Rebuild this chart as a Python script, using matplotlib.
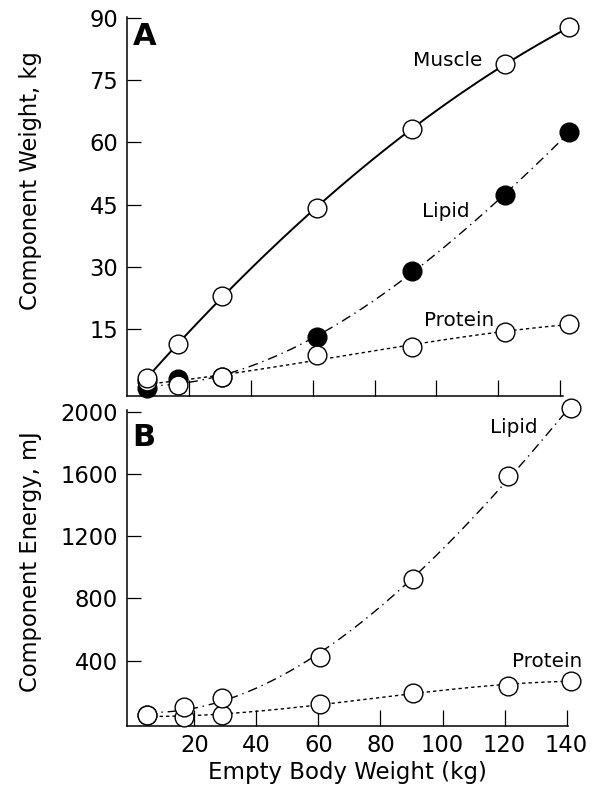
import numpy as np
import matplotlib
matplotlib.use("Agg")
import matplotlib.pyplot as plt

# empty body weight (kg) for each animal, panel A and panel B
weight_a = [6.3, 16.5, 30.8, 61.5, 92.0, 122.3, 143.0]
weight_b = [4.7, 16.8, 28.8, 60.5, 90.4, 121.0, 141.4]

# component weights (kg)
muscle_kg = [3.2, 11.4, 23.1, 44.3, 63.3, 78.9, 87.7]
lipid_kg = [0.8, 2.9, 3.5, 13.1, 29.0, 47.4, 62.5]
protein_kg = [2.6, 1.6, 3.5, 8.8, 10.7, 14.3, 16.3]

# component energy (mJ)
lipid_mj = [48, 100, 160, 426, 924, 1588, 2025]
protein_mj = [48, 38, 51, 124, 191, 238, 272]

ticks_x = [20, 40, 60, 80, 100, 120, 140]
ticks_a = [15, 30, 45, 60, 75, 90]
ticks_b = [400, 800, 1200, 1600, 2000]

plt.rcParams['font.family'] = 'DejaVu Sans'
fs = 16.3

fig = plt.figure(figsize=(5.97, 7.85), dpi=100)
ax1 = fig.add_axes([0.2131, 0.4955, 0.7303, 0.4834])
ax2 = fig.add_axes([0.2127, 0.0752, 0.7390, 0.4025])


def trend(ax, x, y, **kw):
    # smooth cubic trend through the points
    c = np.polyfit(x, y, 3)
    xs = np.linspace(x[0], x[-1], 200)
    ax.plot(xs, np.polyval(c, xs), color='black', zorder=1, **kw)


def dots(ax, x, y, filled, z):
    ax.plot(x, y, 'o', ms=13.5, mew=1.0, mec='black',
            mfc='black' if filled else 'white', zorder=z, clip_on=False)


dashdot = (0, (7, 3.5, 1, 3.5))
dotted = (0, (2.4, 2.2))

# panel A
trend(ax1, weight_a, muscle_kg, lw=1.4, linestyle='-')
trend(ax1, weight_a, lipid_kg, lw=1.0, linestyle=dashdot)
trend(ax1, weight_a, protein_kg, lw=1.0, linestyle=dotted)
dots(ax1, weight_a, lipid_kg, True, 3)
dots(ax1, weight_a, protein_kg, False, 4)
dots(ax1, weight_a, muscle_kg, False, 5)

ax1.text(92.4, 78.4, 'Muscle', fontsize=14.4, va='baseline')
ax1.text(95.2, 42.1, 'Lipid', fontsize=14.4, va='baseline')
ax1.text(96.1, 15.8, 'Protein', fontsize=14.4, va='baseline')
ax1.text(0.014, 0.985, 'A', transform=ax1.transAxes, fontsize=22,
         fontweight='bold', va='top', ha='left')

ax1.set_xlim(0, 141)
ax1.set_ylim(-1.1, 90.3)
ax1.set_xticks(ticks_x)
ax1.set_yticks(ticks_a)
ax1.tick_params(axis='x', direction='in', length=11.5, width=0.9,
                labelbottom=False)
ax1.tick_params(axis='y', direction='in', length=10, width=0.9, pad=6.5,
                labelsize=fs)
ax1.set_ylabel('Component Weight, kg', fontsize=fs)
ax1.yaxis.set_label_coords(-0.196, 0.567)

# panel B
trend(ax2, weight_b, lipid_mj, lw=1.0, linestyle=dashdot)
trend(ax2, weight_b, protein_mj, lw=1.0, linestyle=dotted)
dots(ax2, weight_b, protein_mj, False, 4)
dots(ax2, weight_b, lipid_mj, False, 5)

ax2.text(115.3, 1861, 'Lipid', fontsize=14.4, va='baseline')
ax2.text(122.3, 361, 'Protein', fontsize=14.4, va='baseline')
ax2.text(0.013, 0.96, 'B', transform=ax2.transAxes, fontsize=22,
         fontweight='bold', va='top', ha='left')

ax2.set_xlim(-1.7, 140.5)
ax2.set_ylim(-20, 2010)
ax2.set_xticks(ticks_x)
ax2.set_yticks(ticks_b)
ax2.tick_params(axis='x', direction='in', length=11.5, width=0.9, pad=6,
                labelsize=fs)
ax2.tick_params(axis='y', direction='in', length=10, width=0.9, pad=6.5,
                labelsize=fs)
ax2.set_ylabel('Component Energy, mJ', fontsize=fs)
ax2.yaxis.set_label_coords(-0.193, 0.52)
ax2.set_xlabel('Empty Body Weight (kg)', fontsize=16.5, labelpad=3)

for ax in (ax1, ax2):
    for side in ('top', 'right'):
        ax.spines[side].set_visible(False)
    for side in ('left', 'bottom'):
        ax.spines[side].set_linewidth(1.1)

fig.savefig('out.png', dpi=100)
